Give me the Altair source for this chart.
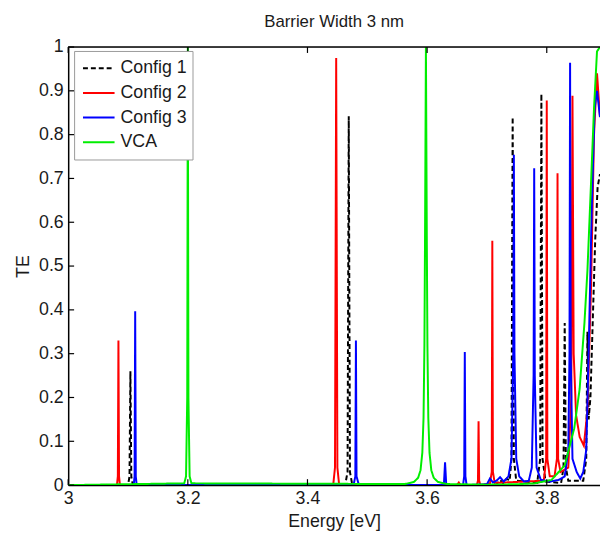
import altair as alt
import pandas as pd

TITLE = "Barrier Width 3 nm"
X_TITLE = "Energy [eV]"
Y_TITLE = "TE"
SERIES = ["Config 1", "Config 2", "Config 3", "VCA"]
COLORS = ["#000000", "#ff0000", "#0000ff", "#00ee00"]
DASHES = [[5, 3], [1, 0], [1, 0], [1, 0]]
X_TICKS = [3.0, 3.2, 3.4, 3.6, 3.8]
Y_TICKS = [0, 0.1, 0.2, 0.3, 0.4, 0.5, 0.6, 0.7, 0.8, 0.9, 1.0]
X_DOMAIN = [3.0, 3.889]

# Config 1 (black dashed)
c1_x = [3.000, 3.100, 3.1025, 3.104, 3.1055, 3.108,
        3.463, 3.467, 3.469, 3.471, 3.475,
        3.715, 3.722, 3.727, 3.733, 3.738, 3.741, 3.743, 3.745, 3.749,
        3.784, 3.789, 3.791, 3.793, 3.798,
        3.824, 3.828, 3.830, 3.832, 3.836,
        3.861, 3.866, 3.868, 3.870, 3.873, 3.877, 3.881, 3.885, 3.889]
c1_y = [0, 0, 0.02, 0.26, 0.02, 0,
        0, 0.03, 0.842, 0.03, 0,
        0, 0.012, 0.004, 0.015, 0.01, 0.06, 0.84, 0.06, 0.01,
        0.005, 0.06, 0.893, 0.06, 0.008,
        0.005, 0.04, 0.37, 0.04, 0.01,
        0.01, 0.06, 0.35, 0.15, 0.2, 0.38, 0.56, 0.68, 0.71]

# Config 2 (red)
c2_x = [3.000, 3.0815, 3.083, 3.084, 3.085, 3.0865,
        3.443, 3.446, 3.448, 3.450, 3.453,
        3.650, 3.653, 3.656,
        3.683, 3.685, 3.686, 3.687, 3.689,
        3.705, 3.708, 3.709, 3.710, 3.713,
        3.795, 3.799, 3.800, 3.801, 3.805,
        3.813, 3.817, 3.818, 3.819, 3.823,
        3.836, 3.841, 3.843, 3.845, 3.849, 3.855, 3.862, 3.868, 3.874, 3.879, 3.884, 3.889]
c2_y = [0, 0, 0.02, 0.33, 0.02, 0,
        0, 0.04, 0.975, 0.04, 0,
        0, 0.006, 0,
        0, 0.01, 0.146, 0.01, 0,
        0.003, 0.03, 0.558, 0.03, 0.005,
        0.01, 0.06, 0.878, 0.06, 0.02,
        0.02, 0.06, 0.712, 0.06, 0.03,
        0.04, 0.2, 0.889, 0.3, 0.16, 0.11, 0.09, 0.17, 0.45, 0.8, 0.94, 0.84]

# Config 3 (blue)
c3_x = [3.000, 3.1095, 3.111, 3.112, 3.113, 3.1145,
        3.477, 3.480, 3.481, 3.482, 3.486,
        3.628, 3.630, 3.632,
        3.660, 3.662, 3.663, 3.664, 3.666,
        3.700, 3.705, 3.710, 3.716, 3.722, 3.728, 3.736, 3.741, 3.744, 3.745, 3.746, 3.749, 3.754, 3.762,
        3.770, 3.775, 3.778, 3.779, 3.780, 3.783, 3.790, 3.805, 3.820, 3.830, 3.836, 3.838, 3.839, 3.840,
        3.843, 3.850, 3.856, 3.861, 3.866, 3.870, 3.875, 3.880, 3.884, 3.889]
c3_y = [0, 0, 0.02, 0.397, 0.02, 0,
        0, 0.02, 0.33, 0.02, 0,
        0, 0.052, 0,
        0, 0.02, 0.304, 0.02, 0,
        0.002, 0.015, 0.006, 0.01, 0.018, 0.008, 0.02, 0.06, 0.3, 0.754, 0.3, 0.06, 0.02, 0.008,
        0.01, 0.04, 0.25, 0.723, 0.25, 0.04, 0.012, 0.008, 0.012, 0.02, 0.08, 0.3, 0.964, 0.3,
        0.06, 0.03, 0.015, 0.03, 0.08, 0.3, 0.62, 0.86, 0.90, 0.84]

# VCA (green)
c4_x = [3.000, 3.194, 3.197, 3.199, 3.200, 3.201, 3.203, 3.206,
        3.563, 3.578, 3.585, 3.589, 3.592, 3.594, 3.5955, 3.5965, 3.598, 3.5995, 3.6005,
        3.602, 3.604, 3.607, 3.611, 3.618, 3.633,
        3.700, 3.750, 3.780, 3.808, 3.830, 3.846, 3.855, 3.863, 3.868, 3.874, 3.879, 3.884, 3.889]
c4_y = [0, 0.004, 0.02, 0.2, 1.0, 0.2, 0.02, 0.004,
        0.0024, 0.0072, 0.0168, 0.034, 0.074, 0.153, 0.32, 0.56, 1.0, 0.56, 0.32,
        0.153, 0.074, 0.034, 0.0168, 0.0072, 0.0024,
        0.001, 0.002, 0.004, 0.012, 0.045, 0.13, 0.22, 0.37, 0.49, 0.69, 0.86, 0.99, 1.0]

rows = []
for name, xs, ys in zip(SERIES, [c1_x, c2_x, c3_x, c4_x], [c1_y, c2_y, c3_y, c4_y]):
    for i, (xv, yv) in enumerate(zip(xs, ys)):
        rows.append({"series": name, "energy": xv, "te": yv, "idx": i})
df = pd.DataFrame(rows)

PLOT_W = 539
PLOT_H = 444
FONT = "Liberation Sans"

xscale = alt.Scale(domain=X_DOMAIN, nice=False, zero=False)
yscale = alt.Scale(domain=[0, 1], nice=False, zero=False)

x_axis = alt.Axis(values=X_TICKS, format=".1~f", title=X_TITLE, ticks=False, tickSize=0,
                  grid=False, domainColor="black", domainWidth=1.5, labelPadding=5,
                  titlePadding=5, labelFontSize=18, titleFontSize=18, labelFont=FONT,
                  titleFont=FONT, titleFontWeight="normal", labelColor="#1a1a1a",
                  titleColor="#1a1a1a", labelFlush=False)
y_axis = alt.Axis(values=Y_TICKS, format=".1~f", title=Y_TITLE, ticks=False, tickSize=0,
                  grid=False, domainColor="black", domainWidth=1.5, labelPadding=5,
                  titlePadding=6, labelFontSize=18, titleFontSize=18, labelFont=FONT,
                  titleFont=FONT, titleFontWeight="normal", labelColor="#1a1a1a",
                  titleColor="#1a1a1a", labelFlush=False)

legend = alt.Legend(title=None, orient="none", legendX=6, legendY=4, symbolType="stroke",
                    symbolSize=1024, symbolStrokeWidth=2, labelFontSize=18, labelFont=FONT,
                    labelColor="#1a1a1a", fillColor="white", strokeColor="#999999",
                    padding=5, rowPadding=0, clipHeight=25, symbolOffset=3,
                    labelOffset=5, labelLimit=200)

color = alt.Color("series:N", scale=alt.Scale(domain=SERIES, range=COLORS), legend=legend)
dash = alt.StrokeDash("series:N", scale=alt.Scale(domain=SERIES, range=DASHES), legend=legend)

x_enc = alt.X("energy:Q", scale=xscale, axis=x_axis)
y_enc = alt.Y("te:Q", scale=yscale, axis=y_axis)

layers = []
for s in SERIES:
    layers.append(
        alt.Chart(df).transform_filter(alt.datum.series == s)
        .mark_line(strokeWidth=2, clip=True)
        .encode(x=x_enc, y=y_enc, color=color, strokeDash=dash, order="idx:Q")
    )

xt = pd.DataFrame({"energy": X_TICKS})
yt = pd.DataFrame({"te": Y_TICKS})
bottom_ticks = alt.Chart(xt).mark_rule(color="black", strokeWidth=1.2).encode(
    x=x_enc, y=alt.value(PLOT_H), y2=alt.value(PLOT_H - 6))
top_ticks = alt.Chart(xt).mark_rule(color="black", strokeWidth=1.2).encode(
    x=x_enc, y=alt.value(0), y2=alt.value(6))
left_ticks = alt.Chart(yt).mark_rule(color="black", strokeWidth=1.2).encode(
    y=y_enc, x=alt.value(0), x2=alt.value(6))
top_border = alt.Chart(pd.DataFrame({"a": [0]})).mark_rule(color="black", strokeWidth=1.5).encode(
    x=alt.value(0), x2=alt.value(PLOT_W), y=alt.value(0))

chart = alt.layer(*layers, bottom_ticks, top_ticks, left_ticks, top_border).properties(
    width=PLOT_W, height=PLOT_H,
    title=alt.Title(TITLE, fontSize=17, font=FONT, fontWeight="normal", offset=7,
                    color="#1a1a1a", anchor="middle"),
    autosize=alt.AutoSizeParams(type="none"),
    padding={"left": 61, "top": 36, "right": 0, "bottom": 45},
).configure_view(stroke=None).configure(background="white")

chart.save("out.html", embed_options={"renderer": "svg", "actions": False})
